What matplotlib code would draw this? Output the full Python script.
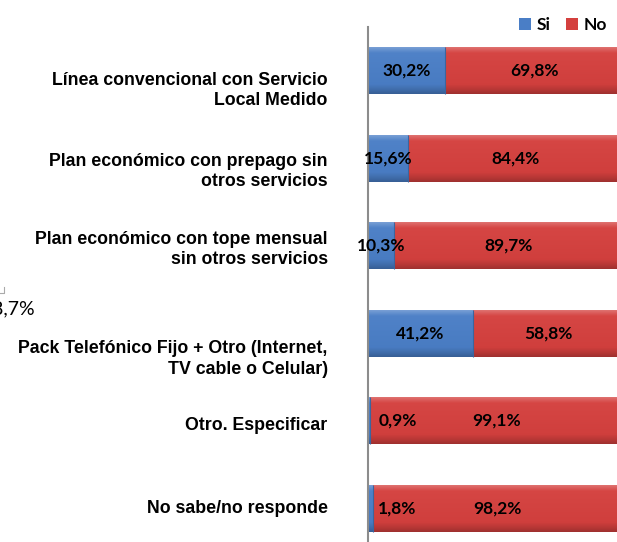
import matplotlib
matplotlib.use("Agg")
import matplotlib.pyplot as plt
import matplotlib.transforms as mtransforms
from matplotlib.colors import to_rgb
import numpy as np

categories = [
    "Línea convencional con Servicio\nLocal Medido",
    "Plan económico con prepago sin\notros servicios",
    "Plan económico con tope mensual\nsin otros servicios",
    "Pack Telefónico Fijo + Otro (Internet,\nTV cable o Celular)",
    "Otro. Especificar",
    "No sabe/no responde",
]
si = [30.2, 15.6, 10.3, 41.2, 0.9, 1.8]
no = [69.8, 84.4, 89.7, 58.8, 99.1, 98.2]
series_names = ["Si", "No"]

# layout: vertical shift of each category label (pixels, downward)
label_shift_px = [16, 10, 0, 22, 3, -2]

blue = "#4a7ec6"
red = "#d4403e"

fig = plt.figure(figsize=(6.17, 5.42), dpi=100)
ax = fig.add_axes([368/617, -10/542, 255/617, 525/542])

y = np.arange(len(categories))
h = 0.54
b1 = ax.barh(y, si, height=h, color=blue, edgecolor="none", label=series_names[0])
b2 = ax.barh(y, no, left=si, height=h, color=red, edgecolor="none", label=series_names[1])


def shade(base, f):
    c = np.array(to_rgb(base))
    if f >= 0:
        return c + (1 - c) * f
    return c * (1 + f)


def gradient_fill(container, base):
    # top -> bottom of each bar
    stops = np.array([0.0, 0.06, 0.14, 0.80, 0.92, 1.0])
    cols = np.array([shade(base, 0.30), shade(base, 0.18), shade(base, 0.03),
                     shade(base, -0.02), shade(base, -0.15), shade(base, -0.25)])
    t = np.linspace(0, 1, 96)
    img = np.stack([np.interp(t, stops, cols[:, k]) for k in range(3)], axis=-1)
    img = img[:, None, :]
    for p in container.patches:
        x0, y0 = p.get_x(), p.get_y()
        w, hh = p.get_width(), p.get_height()
        im = ax.imshow(img, extent=(x0, x0 + w, y0 + hh, y0), origin="upper",
                       aspect="auto", zorder=p.get_zorder() + 0.1, interpolation="bilinear")
        im.set_clip_path(p)
        # darker vertical edges, like a bevel
        ax.plot([x0 + w, x0 + w], [y0, y0 + hh], color=shade(base, -0.2), lw=0.8,
                zorder=p.get_zorder() + 0.2, solid_capstyle="butt")


gradient_fill(b1, blue)
gradient_fill(b2, red)
ax.set_ylim(len(categories) - 0.5, -0.5)
ax.set_xlim(0, 100)

for s in ["top", "right", "bottom"]:
    ax.spines[s].set_visible(False)
ax.spines["left"].set_color("#8c8c8c")
ax.spines["left"].set_linewidth(1.5)
ax.spines["left"].set_zorder(6)
ax.set_xticks([])
ax.set_yticks(y)
ax.set_yticklabels(categories, fontfamily="Liberation Sans", fontweight="bold",
                   fontsize=12.8, linespacing=1.25)
ax.tick_params(axis="y", length=0, pad=29)
for lbl, d in zip(ax.get_yticklabels(), label_shift_px):
    lbl.set_transform(lbl.get_transform() +
                      mtransforms.ScaledTranslation(0, -d / 100, fig.dpi_scale_trans))


def fmt(v):
    return f"{v:.1f}%".replace(".", ",")


vfont = dict(fontfamily="Lato", fontweight="bold", fontsize=12.5, color="black",
             va="center", zorder=7)
for i in range(len(categories)):
    sx = si[i] / 2 if si[i] > 5 else 11.6
    ax.text(sx, y[i], fmt(si[i]), ha="center", **vfont)
    ax.text(si[i] + no[i] / 2, y[i], fmt(no[i]), ha="center", **vfont)

leg = fig.legend(handles=[b1, b2], labels=series_names, loc="upper right",
                 bbox_to_anchor=(619/617, 537/542), ncol=2, frameon=False,
                 handlelength=0.7, handleheight=0.7, handletextpad=0.3,
                 columnspacing=0.9, borderpad=0.2,
                 prop=dict(family="Lato", weight="bold", size=12.5))

# fragment of a neighbouring chart at the left edge
fig.text(-0.013, (542-309)/542, "8,7%", fontfamily="Lato", fontsize=14, va="center", ha="left")
fig.add_artist(plt.Line2D([0, 4/617, 4/617], [(542-293)/542, (542-293)/542, (542-287)/542],
                          transform=fig.transFigure, color="#aaaaaa", lw=0.8))

fig.savefig("out.png", dpi=100)
